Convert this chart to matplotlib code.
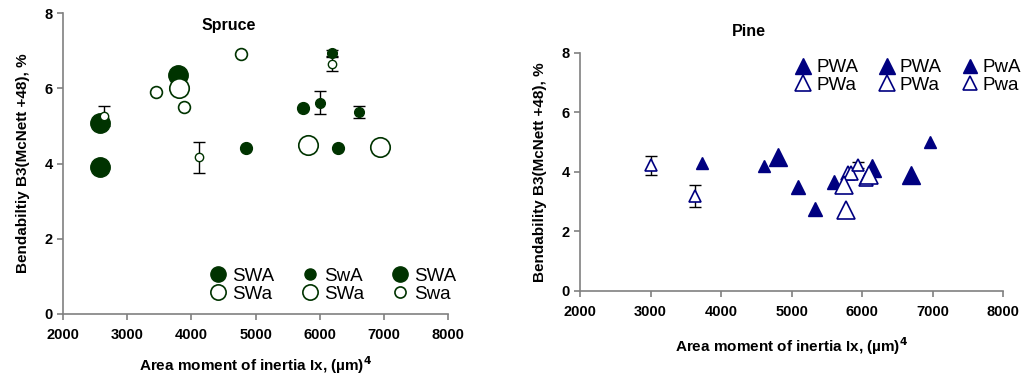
import matplotlib.pyplot as plt
from matplotlib.lines import Line2D

plt.rcParams['font.family'] = ['Liberation Sans', 'DejaVu Sans']

# Spruce series: (x, y) pairs per group, error half-widths where measured
swa1_x = [2580, 2580, 3790]
swa1_y = [5.08, 3.91, 6.36]
swa2_x = [6010, 6190, 6610]
swa2_y = [5.62, 6.93, 5.37]
swa2_err = [0.30, 0.10, 0.17]
swa3_x = [4850, 5740, 6290]
swa3_y = [4.41, 5.48, 4.41]
swao1_x = [3450, 3890, 4770]
swao1_y = [5.90, 5.50, 6.90]
swao2_x = [3810, 5820, 6940]
swao2_y = [6.00, 4.48, 4.45]
swao3_x = [2640, 4120, 6190]
swao3_y = [5.27, 4.17, 6.65]
swao3_err = [0.27, 0.41, 0.20]

# Pine series
pwa1_x = [4810, 6140, 6700]
pwa1_y = [4.50, 4.13, 3.88]
pwa2_x = [5090, 5330, 5600]
pwa2_y = [3.49, 2.75, 3.65]
pwa3_x = [3730, 4610, 6960]
pwa3_y = [4.29, 4.20, 5.00]
pwao1_x = [5800, 5850, 6050]
pwao1_y = [3.95, 3.97, 3.75]
pwao2_x = [5740, 5770, 6100]
pwao2_y = [3.55, 2.71, 3.89]
pwao3_x = [3010, 3630, 5940]
pwao3_y = [4.22, 3.18, 4.22]
pwao3_err = [0.32, 0.36, 0.10]

xticks = [2000, 3000, 4000, 5000, 6000, 7000, 8000]
yticks = [0, 2, 4, 6, 8]

green = '#003300'
navy = '#000080'

fig = plt.figure(figsize=(10.25, 3.8), dpi=100)
ax1 = fig.add_axes([0.0615, 0.1737, 0.3756, 0.792])
ax2 = fig.add_axes([0.5659, 0.235, 0.4127, 0.626])


def style_axes(ax, ylabel, xpad):
    ax.set_xlim(2000, 8000)
    ax.set_ylim(0, 8)
    ax.set_xticks(xticks)
    ax.set_yticks(yticks)
    for side in ['top', 'right']:
        ax.spines[side].set_visible(False)
    for side in ['left', 'bottom']:
        ax.spines[side].set_color('#808080')
        ax.spines[side].set_linewidth(1.2)
    ax.tick_params(direction='out', length=4, width=1.2, color='#808080',
                   labelsize=10.5)
    ax.tick_params(axis='x', pad=6)
    for lab in ax.get_xticklabels() + ax.get_yticklabels():
        lab.set_fontweight('bold')
    ax.set_xlabel('Area moment of inertia Ix, (\u00b5m)$^\\mathbf{4}$',
                  fontsize=11, fontweight='bold', labelpad=xpad)
    ax.set_ylabel(ylabel, fontsize=11, fontweight='bold', labelpad=10)


# Spruce
ax1.errorbar(swa2_x, swa2_y, yerr=swa2_err, fmt='none', ecolor='black',
             elinewidth=1, capsize=4, capthick=1, zorder=2)
ax1.errorbar(swao3_x, swao3_y, yerr=swao3_err, fmt='none', ecolor='black',
             elinewidth=1, capsize=4, capthick=1, zorder=2)
ax1.plot(swa1_x, swa1_y, 'o', ms=14, color=green, mec=green, ls='none', zorder=3)
ax1.plot(swa2_x, swa2_y, 'o', ms=7, color=green, mec=green, ls='none', zorder=3)
ax1.plot(swa3_x, swa3_y, 'o', ms=8.5, color=green, mec=green, ls='none', zorder=3)
ax1.plot(swao1_x, swao1_y, 'o', ms=8.5, mfc='white', mec=green, mew=1.2, ls='none', zorder=3)
ax1.plot(swao2_x, swao2_y, 'o', ms=14, mfc='white', mec=green, mew=1.2, ls='none', zorder=3)
ax1.plot(swao3_x, swao3_y, 'o', ms=6, mfc='white', mec=green, mew=1, ls='none', zorder=4)
style_axes(ax1, 'Bendabiltiy B3(McNett +48), %', 9)
ax1.text(0.43, 0.985, 'Spruce', transform=ax1.transAxes, ha='center', va='top',
         fontsize=11.5, fontweight='bold')

s_handles = [
    Line2D([], [], marker='o', ls='none', ms=11, color=green),
    Line2D([], [], marker='o', ls='none', ms=11, mfc='white', mec=green, mew=1.2),
    Line2D([], [], marker='o', ls='none', ms=8, color=green),
    Line2D([], [], marker='o', ls='none', ms=11, mfc='white', mec=green, mew=1.2),
    Line2D([], [], marker='o', ls='none', ms=11, color=green),
    Line2D([], [], marker='o', ls='none', ms=8, mfc='white', mec=green, mew=1.2),
]
s_labels = ['SWA', 'SWa', 'SwA', 'SWa', 'SWA', 'Swa']
ax1.legend(s_handles, s_labels, ncol=3, loc='lower right', bbox_to_anchor=(1.05, 0.0),
           frameon=False, fontsize=13.5, handletextpad=0.15, columnspacing=1.3,
           labelspacing=0.05, borderaxespad=0.2, handlelength=1.2)

# Pine
ax2.errorbar(pwao3_x, pwao3_y, yerr=pwao3_err, fmt='none', ecolor='black',
             elinewidth=1, capsize=4, capthick=1, zorder=2)
ax2.plot(pwa1_x, pwa1_y, '^', ms=13, color=navy, ls='none', zorder=3)
ax2.plot(pwa2_x, pwa2_y, '^', ms=10, color=navy, ls='none', zorder=3)
ax2.plot(pwa3_x, pwa3_y, '^', ms=8, color=navy, ls='none', zorder=3)
ax2.plot(pwao1_x, pwao1_y, '^', ms=10, mfc='white', mec=navy, mew=1.2, ls='none', zorder=3)
ax2.plot(pwao2_x, pwao2_y, '^', ms=13, mfc='white', mec=navy, mew=1.2, ls='none', zorder=3)
ax2.plot(pwao3_x, pwao3_y, '^', ms=9, mfc='white', mec=navy, mew=1.2, ls='none', zorder=4)
style_axes(ax2, 'Bendability B3(McNett +48), %', 12)
ax2.set_title('Pine', fontsize=11.5, fontweight='bold', x=0.4, pad=12)

p_handles = [
    Line2D([], [], marker='^', ls='none', ms=12, color=navy),
    Line2D([], [], marker='^', ls='none', ms=12, mfc='white', mec=navy, mew=1.2),
    Line2D([], [], marker='^', ls='none', ms=12, color=navy),
    Line2D([], [], marker='^', ls='none', ms=12, mfc='white', mec=navy, mew=1.2),
    Line2D([], [], marker='^', ls='none', ms=10, color=navy),
    Line2D([], [], marker='^', ls='none', ms=10, mfc='white', mec=navy, mew=1.2),
]
p_labels = ['PWA', 'PWa', 'PWA', 'PWa', 'PwA', 'Pwa']
ax2.legend(p_handles, p_labels, ncol=3, loc='upper right', bbox_to_anchor=(1.07, 1.02),
           frameon=False, fontsize=13.5, handletextpad=0.1, columnspacing=0.9,
           labelspacing=0.0, borderaxespad=0.2, handlelength=1.2)

fig.savefig('out.png', dpi=100)
